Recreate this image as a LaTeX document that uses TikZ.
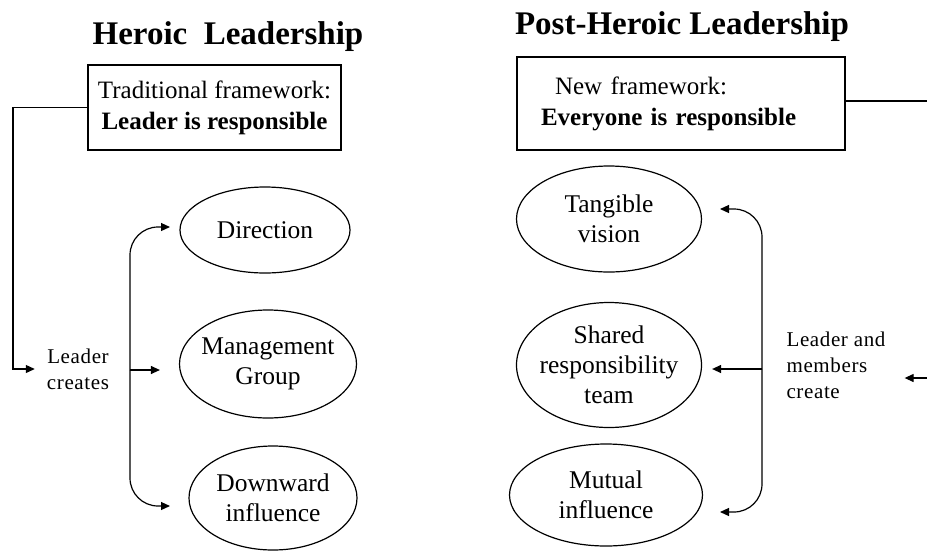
\documentclass[tikz,border=0pt]{standalone}
\usepackage{fontspec}
\setmainfont{Liberation Serif}
\newfontfamily\notefont[LetterSpace=3]{Liberation Serif}
\usetikzlibrary{arrows.meta,positioning,shapes.geometric}

\begin{document}
\begin{tikzpicture}[
  x=1pt,y=-1pt,
  every node/.style={align=center},
  heading/.style={font=\fontsize{33}{38}\selectfont\bfseries},
  frame/.style={draw,line width=1.2pt,inner sep=0pt,font=\fontsize{25}{31}\selectfont},
  bubble/.style={draw,ellipse,line width=1.2pt,inner sep=-8pt,font=\fontsize{25.5}{30}\selectfont},
  note/.style={inner ysep=0pt,font=\notefont\fontsize{21}{26}\selectfont},
  arrow/.style={-{Triangle[length=9pt,width=8pt]},line width=1.2pt},
  link/.style={line width=1.2pt}
]
\useasboundingbox (0,0) rectangle (927,550);

% heroic side
\node[heading] (htitle) at (228,37) {Heroic\ \ Leadership};
\node[frame,minimum width=253pt,minimum height=85pt] (oldframe) at (214.5,107.5)
  {Traditional framework:\\ \textbf{Leader is responsible}};
\node[bubble,minimum width=170pt,minimum height=86pt] (dir) at (265,230) {Direction};
\node[bubble,minimum width=177pt,minimum height=108pt] (mgmt) at (268,364) {Management\\Group};
\node[bubble,minimum width=168pt,minimum height=104pt] (down) at (273,498) {Downward\\influence};
\node[note,inner xsep=12pt] (lcreate) at (78,369) {Leader\\creates};

\coordinate (lbend) at (13,107.5);
\coordinate (lspine) at (130,370);
\coordinate (tipdir) at (170,227);
\coordinate (tipdown) at (170,506);

\draw[arrow] (oldframe.west) -- (lbend) |- (lcreate.west);
\draw[arrow,shorten >=19pt] (lspine) -- (lspine -| mgmt.west);
\draw[arrow,rounded corners=28pt] (lspine) |- (tipdir);
\draw[arrow,rounded corners=28pt] (lspine) |- (tipdown);

% post-heroic side
\node[heading] (ptitle) at (682,27) {Post-Heroic Leadership};
\node[frame,minimum height=93pt,text width=280pt,inner xsep=24pt,align=left] (newframe) at (681,103.5)
  {\hspace*{14pt}New framework:\\ \textbf{Everyone is responsible}};
\node[bubble,minimum width=185pt,minimum height=106pt] (vision) at (609,219) {Tangible\\vision};
\node[bubble,minimum width=185pt,minimum height=125pt] (shared) at (609,365) {Shared\\responsibility\\team};
\node[bubble,minimum width=193pt,minimum height=102pt] (mutual) at (606,495) {Mutual\\influence};
\node[note,align=left,inner xsep=19pt] (lmc) at (836,365) {Leader and\\members\\create};

\coordinate (redge) at (927,101);
\coordinate (rin) at (927,378);
\coordinate (rspine) at (762,369);
\coordinate (tipvis) at (720,209);
\coordinate (tipmut) at (720,512);

\draw[link] (newframe.east |- redge) -- (redge);
\draw[arrow] (rin) -- (rin -| lmc.east);
\draw[arrow,shorten >=10pt] (rspine) -- (rspine -| shared.east);
\draw[arrow,rounded corners=28pt] (rspine) |- (tipvis);
\draw[arrow,rounded corners=28pt] (rspine) |- (tipmut);
\end{tikzpicture}
\end{document}
